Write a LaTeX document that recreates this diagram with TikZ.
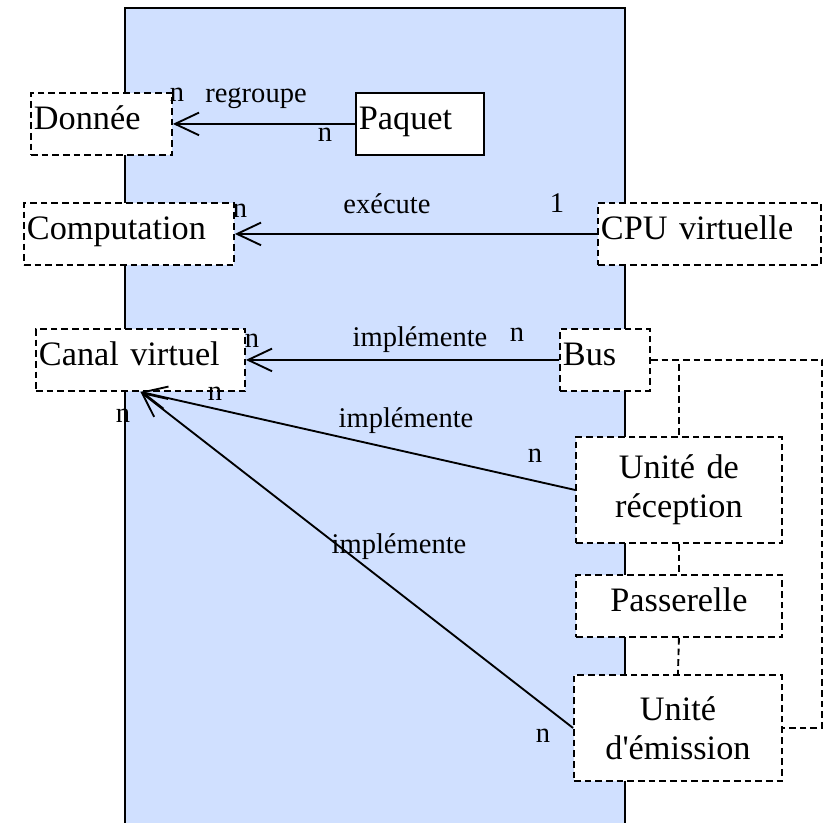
\documentclass[tikz,border=0pt]{standalone}
\usepackage{fontspec}
\setmainfont{Liberation Serif}
\newfontfamily\rawserif{Liberation Serif}
\usetikzlibrary{arrows.meta}

\definecolor{bgblue}{RGB}{208,224,255}
\newcommand{\boxfont}{\rawserif\fontsize{25.7pt}{29pt}\selectfont}
\newcommand{\lblfont}{\fontsize{21.4pt}{24pt}\selectfont}

\tikzset{
  classbox/.style={draw, fill=white, line width=1.4pt, dash pattern=on 5pt off 3pt,
    anchor=north west, inner xsep=2.25pt, inner ysep=0pt, font=\boxfont, align=left,
    text height=27.75pt, text depth=18.75pt},
  twoline/.style={classbox, align=center, text height=, text depth=, minimum height=79.5pt},
  assoc/.style={line width=1.4pt, -{Straight Barb[length=18pt,width=17pt]}},
  link/.style={line width=1.4pt, dash pattern=on 5pt off 3pt},
  lbl/.style={font=\lblfont, anchor=base, inner sep=0pt}
}

\begin{document}
\begin{tikzpicture}[x=0.75pt, y=-0.75pt]
  \useasboundingbox (0,0) rectangle (827,823);

  % Background area
  \fill[bgblue] (125,8) rectangle (625,830);
  \draw[line width=1.4pt] (125,830) -- (125,8) -- (625,8) -- (625,830);

  % Classes
  \node[classbox, text width=101.25pt] (donnee) at (30,92) {Donnée};
  \node[classbox, solid, text width=91.5pt] (paquet) at (355,92) {Paquet};
  \node[classbox, text width=153pt] (comput) at (23,202) {Computation};
  \node[classbox, text width=162.75pt] (cpu) at (597,202) {CPU virtuelle};
  \node[classbox, text width=152.25pt] (canal) at (35,328) {Canal virtuel};
  \node[classbox, text width=63pt] (bus) at (559,328) {Bus};
  \node[twoline, text width=150pt] (recep) at (575,436) {Unité de\\réception};
  \node[classbox, align=center, text width=150pt] (passer) at (575,574) {Passerelle};
  \node[twoline, text width=151.5pt] (emis) at (573,674) {Unité\\d'émission};
  \coordinate (rim) at (822,0);

  % Associations
  \draw[assoc] (paquet.west) -- (donnee.east);
  \draw[assoc] (cpu.west) -- (comput.east);
  \draw[assoc] (bus.west) -- (canal.east);
  \draw[assoc] (recep.west) -- (canal.south);
  \draw[assoc] (emis.west) -- (canal.south);

  % Links between the bus parts
  \draw[link] (bus.east) -| (recep.north);
  \draw[link] (bus.east) -- (bus.east -| rim) |- (emis.east);
  \draw[link] (recep.south) -- (passer.north);
  \draw[link] (passer.south) -- (emis.north);

  % Labels for regroupe
  \node[lbl] (m1) at (177,102) {n};
  \node[lbl] (r1) at (256,103) {regroupe};
  \node[lbl] (m2) at (325,142) {n};

  % Labels for exécute
  \node[lbl] (m3) at (240,218) {n};
  \node[lbl] (r2) at (387,214) {exécute};
  \node[lbl] (m4) at (557,213) {1};

  % Labels for implémente
  \node[lbl] (m5) at (252,347) {n};
  \node[lbl] (r3) at (420,346) {implémente};
  \node[lbl] (m6) at (517,341) {n};
  \node[lbl] (m7) at (215,400) {n};
  \node[lbl] (r4) at (406,427) {implémente};
  \node[lbl] (m8) at (535,462) {n};
  \node[lbl] (m9) at (123,422) {n};
  \node[lbl] (r5) at (399,553) {implémente};
  \node[lbl] (m10) at (543,742) {n};
\end{tikzpicture}
\end{document}
